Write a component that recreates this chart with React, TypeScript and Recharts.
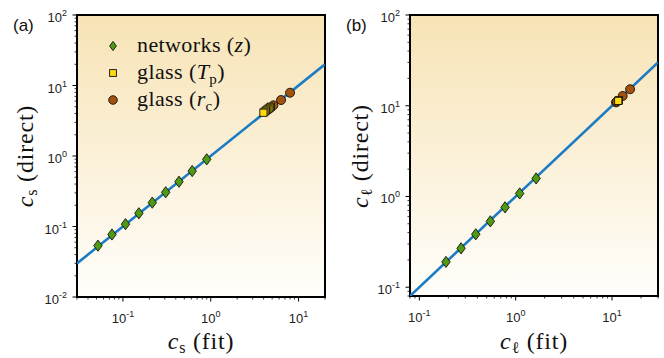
import React from 'react';
import { ComposedChart, Scatter, Line, XAxis, YAxis, CartesianGrid, ReferenceArea, Legend } from 'recharts';

// ---------- data ----------
// Panel (a): c_s
const netAx = [0.052, 0.075, 0.107, 0.152, 0.216, 0.307, 0.435, 0.615, 0.9];
const netAy = [0.0535, 0.077, 0.108, 0.154, 0.218, 0.306, 0.432, 0.612, 0.897];
const rcAx = [4.6, 5.18, 6.32, 8.0];
const rcAy = [4.7, 5.24, 6.22, 7.9];
const tpAx = [4.85, 4.7, 4.55, 4.4, 4.25, 4.1, 3.98];
const tpAy = [5.0, 4.85, 4.7, 4.55, 4.4, 4.25, 4.11];
const fitA = [0.03, 20];
const domainAx = [0.03, 20];
const domainAy = [0.01, 100];

// Panel (b): c_ell
const netBx = [0.189, 0.271, 0.385, 0.546, 0.776, 1.1, 1.63];
const netBy = [0.19, 0.268, 0.383, 0.532, 0.759, 1.08, 1.58];
const rcBx = [11.0, 11.2, 12.9, 15.4];
const rcBy = [10.9, 11.1, 12.8, 15.2];
const tpBx = [11.8, 11.6];
const tpBy = [11.5, 11.3];
const fitB = [0.08, 30];
const domainBx = [0.08, 30];
const domainBy = [0.08, 100];

const decadeMultipliers = [1, 2, 3, 4, 5, 6, 7, 8, 9];
const legendNames = ['networks', 'glass', 'glass'];

// ---------- styles ----------
const GREEN = '#4f9a12';
const YELLOW = '#ffd90f';
const BROWN = '#a3520c';
const BLUE = '#1b7cc4';
const SERIF = '"Liberation Serif", "DejaVu Serif", serif';
const SANS = '"Liberation Sans", Arial, sans-serif';

const zip = (xs: number[], ys: number[]) => xs.map((x, i) => ({ x, y: ys[i] }));

const logTicks = (dom: number[]) => {
  const out: number[] = [];
  const lo = Math.floor(Math.log10(dom[0]));
  const hi = Math.ceil(Math.log10(dom[1]));
  for (let d = lo; d <= hi; d++) {
    for (const m of decadeMultipliers) {
      const v = m * Math.pow(10, d);
      if (v >= dom[0] * 0.9999 && v <= dom[1] * 1.0001) out.push(v);
    }
  }
  return out;
};

const isMajor = (v: number) => Math.abs(Math.log10(v) - Math.round(Math.log10(v))) < 1e-6;

const XTick = (props: any) => {
  const { x, y, payload } = props;
  const v = payload.value;
  const major = isMajor(v);
  return (
    <g>
      <line x1={x} x2={x} y1={y} y2={y + (major ? 4.5 : 2.5)} stroke="#000" strokeWidth={major ? 1 : 0.8} />
      {major && (
        <text x={x} y={y + 26} textAnchor="middle" fontFamily={SANS} fontSize={13} fill="#222">
          10<tspan dy={-6} fontSize={9}>{Math.round(Math.log10(v))}</tspan>
        </text>
      )}
    </g>
  );
};

const YTick = (props: any) => {
  const { x, y, payload } = props;
  const v = payload.value;
  const major = isMajor(v);
  return (
    <g>
      <line x1={x - (major ? 4.5 : 2.5)} x2={x} y1={y} y2={y} stroke="#000" strokeWidth={major ? 1 : 0.8} />
      {major && (
        <text x={x - 10} y={y + 7} textAnchor="end" fontFamily={SANS} fontSize={13} fill="#222">
          10<tspan dy={-6} fontSize={9}>{Math.round(Math.log10(v))}</tspan>
        </text>
      )}
    </g>
  );
};

const Diamond = ({ cx, cy, w = 4.2, h = 5.6 }: any) => (
  <polygon points={`${cx},${cy - h} ${cx + w},${cy} ${cx},${cy + h} ${cx - w},${cy}`} fill={GREEN} stroke="#111" strokeWidth={0.9} />
);
const Square = ({ cx, cy, s = 3.6 }: any) => (
  <rect x={cx - s} y={cy - s} width={2 * s} height={2 * s} fill={YELLOW} stroke="#111" strokeWidth={0.9} />
);
const Dot = ({ cx, cy, r = 4.5 }: any) => (
  <circle cx={cx} cy={cy} r={r} fill={BROWN} stroke="#111" strokeWidth={0.9} />
);

const LegendBox = () => (
  <svg width={200} height={90} style={{ display: 'block' }}>
    <Diamond cx={13} cy={18} w={3.4} h={4.6} />
    <text x={37} y={24} fontFamily={SERIF} fontSize={22} fill="#111" letterSpacing={0.4}>
      {legendNames[0]} (<tspan fontStyle="italic">z</tspan>)
    </text>
    <Square cx={13} cy={45} s={3.4} />
    <text x={37} y={51} fontFamily={SERIF} fontSize={22} fill="#111" letterSpacing={0.4}>
      {legendNames[1]} (<tspan fontStyle="italic">T</tspan><tspan fontSize={15} dy={5}>p</tspan><tspan dy={-5}>)</tspan>
    </text>
    <Dot cx={13} cy={72} r={4.3} />
    <text x={37} y={78} fontFamily={SERIF} fontSize={22} fill="#111" letterSpacing={0.4}>
      {legendNames[2]} (<tspan fontStyle="italic">r</tspan><tspan fontSize={15} dy={5}>c</tspan><tspan dy={-5}>)</tspan>
    </text>
  </svg>
);

type PanelProps = {
  id: string;
  width: number;
  yAxisWidth: number;
  marginRight: number;
  xHeight: number;
  dx: number[];
  dy: number[];
  net: { x: number; y: number }[];
  rc: { x: number; y: number }[];
  tp: { x: number; y: number }[];
  fit: { x: number; y: number }[];
  sub: string;
  xLabelX: number;
  yLabelX: number;
  yLabelY: number;
  tag: string;
  tagX: number;
  legend: boolean;
};

const Panel = (p: PanelProps) => {
  const axisLabel = (rotate: boolean, cx: number, cy: number, word: string) => (
    <text
      x={cx}
      y={cy}
      textAnchor="middle"
      fontFamily={SERIF}
      fontSize={24}
      fill="#111"
      letterSpacing={0.8}
      transform={rotate ? `rotate(-90 ${cx} ${cy})` : undefined}
    >
      <tspan fontStyle="italic">c</tspan>
      <tspan fontSize={16} dy={4}>{p.sub}</tspan>
      <tspan dy={-4}>{' '}({word})</tspan>
    </text>
  );
  return (
    <ComposedChart
      width={p.width}
      height={358}
      margin={{ top: 15, right: p.marginRight, bottom: 0, left: 0 }}
    >
      <defs>
        <linearGradient id={`bg${p.id}`} x1="0" y1="0" x2="0" y2="1">
          <stop offset="0%" stopColor="#f7e3b5" />
          <stop offset="100%" stopColor="#fffefb" />
        </linearGradient>
      </defs>
      <CartesianGrid horizontal={false} vertical={false} fill={`url(#bg${p.id})`} fillOpacity={1} />
      <XAxis
        type="number"
        dataKey="x"
        scale="log"
        domain={p.dx}
        allowDataOverflow
        ticks={logTicks(p.dx)}
        interval={0}
        tick={<XTick />}
        tickLine={false}
        axisLine={false}
        tickSize={0}
        tickMargin={0}
        height={p.xHeight}
        label={{ content: () => axisLabel(false, p.xLabelX, 349, 'fit') }}
      />
      <YAxis
        type="number"
        dataKey="y"
        scale="log"
        domain={p.dy}
        allowDataOverflow
        ticks={logTicks(p.dy)}
        interval={0}
        tick={<YTick />}
        tickLine={false}
        axisLine={false}
        tickSize={0}
        tickMargin={0}
        width={p.yAxisWidth}
        label={{ content: () => (
          <g>
            {axisLabel(true, p.yLabelX, p.yLabelY, 'direct')}
            <text x={p.tagX} y={31} fontFamily={SANS} fontSize={17} fill="#111">{p.tag}</text>
          </g>
        ) }}
      />
      <Line data={p.fit} dataKey="y" stroke={BLUE} strokeWidth={2.6} dot={false} isAnimationActive={false} />
      <Scatter data={p.net} shape={(s: any) => <Diamond cx={s.cx} cy={s.cy} />} isAnimationActive={false} />
      <Scatter data={p.rc} shape={(s: any) => <Dot cx={s.cx} cy={s.cy} />} isAnimationActive={false} />
      <Scatter data={p.tp} shape={(s: any) => <Square cx={s.cx} cy={s.cy} />} isAnimationActive={false} />
      <ReferenceArea x1={p.dx[0]} x2={p.dx[1]} y1={p.dy[0]} y2={p.dy[1]} fill="none" fillOpacity={0} stroke="#000" strokeWidth={2} ifOverflow="visible" />
      {p.legend && (
        <Legend
          layout="vertical"
          align="center"
          verticalAlign="middle"
          content={() => <LegendBox />}
          wrapperStyle={{ left: 100, top: 28, width: 200, height: 90 }}
        />
      )}
    </ComposedChart>
  );
};

export default function App() {
  return (
    <div style={{ position: 'fixed', left: 0, top: 0, width: 664, height: 358, background: '#fff' }}>
      <div style={{ position: 'absolute', left: 0, top: 0 }}>
        <Panel
          id="A"
          width={330}
          yAxisWidth={77}
          marginRight={5}
          xHeight={61}
          dx={domainAx}
          dy={domainAy}
          net={zip(netAx, netAy)}
          rc={zip(rcAx, rcAy)}
          tp={zip(tpAx, tpAy)}
          fit={zip(fitA, fitA)}
          sub="s"
          xLabelX={201}
          yLabelX={33}
          yLabelY={156}
          tag="(a)"
          tagX={13}
          legend
        />
      </div>
      <div style={{ position: 'absolute', left: 330, top: 0 }}>
        <Panel
          id="B"
          width={334}
          yAxisWidth={80}
          marginRight={6}
          xHeight={62}
          dx={domainBx}
          dy={domainBy}
          net={zip(netBx, netBy)}
          rc={zip(rcBx, rcBy)}
          tp={zip(tpBx, tpBy)}
          fit={zip(fitB, fitB)}
          sub="ℓ"
          xLabelX={204}
          yLabelX={38}
          yLabelY={156}
          tag="(b)"
          tagX={16}
          legend={false}
        />
      </div>
    </div>
  );
}
